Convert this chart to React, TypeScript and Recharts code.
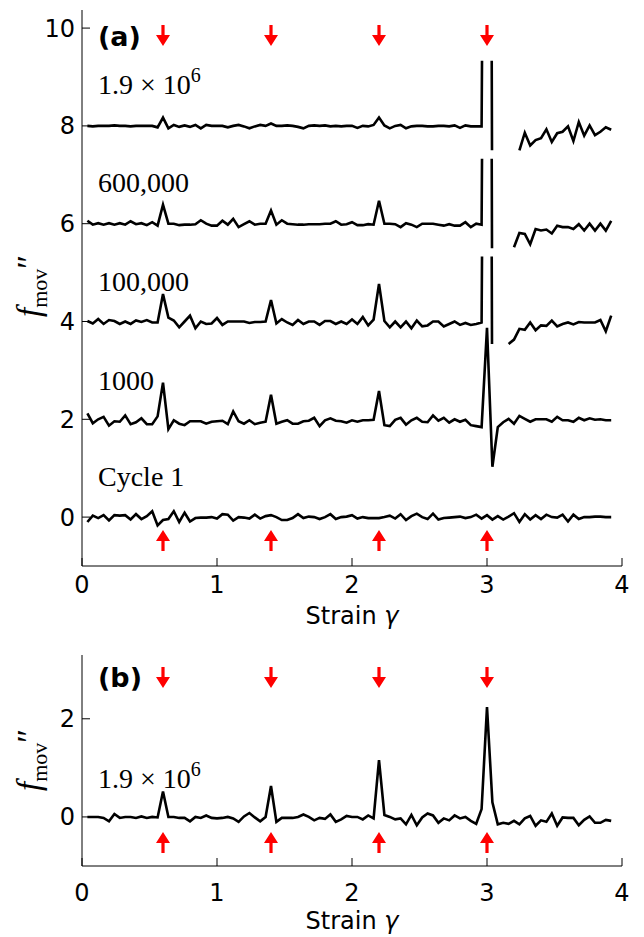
import { ComposedChart, Line, Scatter, XAxis, YAxis } from 'recharts';

// strain grid (gamma) shared by every trace
const strain = [
  0.04, 0.08, 0.12, 0.16, 0.2, 0.24, 0.28, 0.32, 0.36, 0.4,
  0.44, 0.48, 0.52, 0.56, 0.6, 0.64, 0.68, 0.72, 0.76, 0.8,
  0.84, 0.88, 0.92, 0.96, 1.0, 1.04, 1.08, 1.12, 1.16, 1.2,
  1.24, 1.28, 1.32, 1.36, 1.4, 1.44, 1.48, 1.52, 1.56, 1.6,
  1.64, 1.68, 1.72, 1.76, 1.8, 1.84, 1.88, 1.92, 1.96, 2.0,
  2.04, 2.08, 2.12, 2.16, 2.2, 2.24, 2.28, 2.32, 2.36, 2.4,
  2.44, 2.48, 2.52, 2.56, 2.6, 2.64, 2.68, 2.72, 2.76, 2.8,
  2.84, 2.88, 2.92, 2.96, 3.0, 3.04, 3.08, 3.12, 3.16, 3.2,
  3.24, 3.28, 3.32, 3.36, 3.4, 3.44, 3.48, 3.52, 3.56, 3.6,
  3.64, 3.68, 3.72, 3.76, 3.8, 3.84, 3.88, 3.92,
];

// f_mov'' for each cycle, before the vertical offset
const cycle1 = [
  -0.1, 0.03, -0.02, 0.04, -0.07, 0.04, 0.03, 0.04, -0.05, 0.06,
  -0.04, 0.02, 0.12, -0.17, -0.06, -0.04, 0.12, -0.1, 0.09, -0.09,
  -0.02, -0.01, -0.01, 0.0, -0.03, 0.06, 0.05, -0.07, 0.0, -0.01,
  -0.03, 0.05, -0.03, 0.02, 0.04, 0.0, -0.06, -0.06, -0.02, 0.06,
  -0.02, 0.01, 0.0, -0.04, 0.0, 0.06, -0.04, 0.0, 0.01, 0.04,
  -0.03, 0.0, -0.02, -0.02, -0.02, 0.0, 0.03, -0.03, 0.06, -0.06,
  0.02, 0.07, 0.0, -0.04, 0.07, -0.05, -0.02, -0.01, 0.0, 0.01,
  -0.02, 0.0, 0.05, -0.03, 0.04, -0.05, 0.02, -0.05, 0.01, 0.08,
  -0.1, 0.06, -0.05, 0.04, -0.04, 0.05, 0.0, -0.01, 0.05, -0.09,
  0.05, -0.04, 0.0, 0.0, 0.01, 0.01, 0.0, 0.0,
];

const cycle1000 = [
  0.12, -0.08, 0.0, 0.05, -0.13, -0.04, -0.05, 0.08, -0.1, -0.06,
  0.02, -0.1, -0.1, 0.06, 0.75, -0.2, -0.02, -0.09, -0.12, -0.04,
  -0.04, -0.04, -0.09, -0.05, -0.04, -0.03, -0.1, 0.16, -0.04, -0.09,
  -0.02, -0.1, -0.07, -0.05, 0.5, -0.09, -0.05, -0.02, -0.09, -0.09,
  -0.04, -0.03, 0.03, -0.14, -0.02, 0.02, -0.03, -0.04, -0.07, -0.02,
  -0.05, -0.02, -0.02, -0.01, 0.58, -0.12, -0.14, -0.01, 0.03, -0.11,
  -0.02, 0.03, -0.05, -0.06, 0.08, -0.03, 0.03, -0.07, 0.0, -0.05,
  -0.01, -0.12, -0.14, -0.16, 1.87, -0.97, -0.16, -0.06, 0.01, -0.09,
  0.07, 0.01, -0.05, 0.0, 0.0, 0.0, -0.05, 0.05, -0.02, -0.02,
  -0.05, 0.03, -0.02, 0.02, -0.01, 0.0, -0.02, -0.02,
];

const cycle100k = [
  0.01, -0.04, 0.05, -0.05, 0.03, 0.01, -0.05, 0.0, -0.05, 0.02,
  -0.01, 0.03, -0.02, -0.02, 0.56, 0.08, 0.02, -0.12, 0.0, 0.12,
  -0.14, 0.0, -0.05, -0.04, 0.07, -0.07, 0.0, 0.0, 0.0, 0.0,
  -0.03, -0.01, -0.01, 0.0, 0.44, -0.04, 0.05, -0.02, -0.07, 0.03,
  -0.05, 0.0, 0.0, -0.07, 0.01, 0.01, -0.05, 0.0, -0.05, 0.04,
  -0.05, 0.09, -0.08, 0.04, 0.77, 0.01, -0.12, 0.0, -0.12, 0.0,
  -0.14, 0.02, -0.1, -0.08, 0.0, 0.0, -0.1, -0.05, 0.0, -0.07,
  -0.03, -0.07, -0.05, -0.02, null, null, null, null, -0.46, -0.37,
  -0.15, -0.17, -0.02, -0.18, -0.08, -0.09, 0.02, -0.1, -0.05, -0.02,
  -0.06, -0.01, -0.02, -0.02, -0.02, 0.03, -0.2, 0.12,
];

const cycle600k = [
  0.06, -0.02, 0.01, -0.02, 0.01, -0.02, 0.01, -0.02, 0.05, -0.01,
  0.01, -0.03, 0.03, -0.04, 0.39, 0.0, 0.0, -0.03, -0.02, -0.02,
  -0.01, 0.07, 0.0, -0.04, -0.04, 0.06, -0.02, 0.1, -0.07, -0.01,
  0.05, -0.02, 0.0, 0.0, 0.27, -0.02, 0.07, 0.0, -0.01, -0.02,
  -0.02, -0.01, -0.01, -0.01, 0.0, 0.0, 0.05, -0.02, -0.01, 0.03,
  -0.03, -0.03, -0.01, -0.02, 0.47, 0.0, 0.0, -0.01, -0.07, 0.01,
  -0.02, -0.07, 0.0, 0.0, 0.0, -0.02, -0.04, -0.01, -0.04, -0.04,
  0.03, -0.07, 0.0, -0.02, null, null, null, null, null, -0.48,
  -0.19, -0.21, -0.42, -0.11, -0.14, -0.12, -0.2, -0.04, -0.07, -0.07,
  -0.11, -0.01, -0.14, 0.0, -0.14, 0.0, -0.14, 0.06,
];

const cycle19e6 = [
  0.0, -0.01, 0.0, 0.0, 0.0, 0.01, 0.0, 0.0, -0.01, 0.0,
  0.0, 0.0, 0.0, -0.03, 0.17, -0.05, 0.02, -0.02, 0.01, -0.02,
  0.02, -0.05, 0.02, 0.0, 0.0, 0.0, -0.03, 0.0, 0.02, -0.01,
  -0.05, -0.01, 0.02, 0.0, 0.05, 0.0, 0.0, 0.01, 0.0, -0.02,
  -0.05, 0.0, 0.01, 0.0, 0.01, -0.01, 0.0, -0.01, 0.0, 0.0,
  -0.04, 0.0, -0.01, 0.02, 0.17, 0.01, -0.05, 0.0, 0.02, -0.05,
  -0.01, 0.0, 0.0, -0.01, -0.01, 0.0, 0.0, -0.01, 0.01, -0.04,
  0.01, -0.01, -0.01, -0.01, null, null, null, null, null, null,
  -0.5, -0.14, -0.4, -0.29, -0.25, -0.07, -0.33, -0.15, -0.12, -0.01,
  -0.31, 0.08, -0.2, 0.01, -0.19, -0.12, -0.03, -0.08,
];

// panel (b): cycle 1.9e6, no offset
const panelB = [
  0.0, 0.0, 0.0, -0.02, -0.09, 0.06, -0.02, 0.0, 0.0, -0.02,
  0.01, -0.02, 0.0, -0.01, 0.52, 0.0, 0.0, -0.02, -0.02, -0.09,
  0.0, -0.02, 0.03, -0.02, -0.03, -0.02, 0.0, -0.03, -0.1, 0.01,
  0.08, -0.01, -0.09, 0.0, 0.63, -0.1, -0.02, -0.02, -0.02, 0.0,
  0.05, 0.0, -0.07, -0.02, -0.04, 0.05, -0.1, -0.05, 0.02, 0.0,
  0.0, -0.05, 0.03, -0.03, 1.16, 0.04, 0.0, -0.05, -0.03, -0.15,
  0.04, -0.17, -0.01, 0.07, 0.03, -0.12, -0.03, -0.07, 0.03, -0.03,
  0.0, -0.08, -0.14, 0.16, 2.24, 0.3, -0.15, -0.12, -0.14, -0.08,
  -0.15, -0.03, 0.02, -0.18, -0.07, -0.1, 0.07, -0.18, -0.01, -0.02,
  -0.02, -0.17, -0.06, 0.01, -0.12, -0.12, -0.06, -0.08,
];

// clipped spike at gamma = 3 for the later cycles
const spikeAfter = 2.96;
const spikeRiseX = 2.963;
const spikeFallX = 3.035;
const spikeTop = 1.33;

// red markers
const arrowStrain = [0.6, 1.4, 2.2, 3.0];
const arrowLevelsA = { down: 9.86, up: -0.49 };
const arrowLevelsB = { down: 2.85, up: -0.53 };

const xTicks = [0, 1, 2, 3, 4];
const yTicksA = [0, 2, 4, 6, 8, 10];
const yTicksB = [0, 2];

type Pt = { x: number; y: number | null };

function trace(values: (number | null)[], offset: number, spikeBottom?: number): Pt[] {
  const pts: Pt[] = [];
  strain.forEach((x, i) => {
    const v = values[i];
    pts.push({ x, y: v === null ? null : v + offset });
    if (spikeBottom !== undefined && x === spikeAfter) {
      pts.push({ x: spikeRiseX, y: offset + spikeTop });
      pts.push({ x: spikeRiseX, y: null });
      pts.push({ x: spikeFallX, y: offset + spikeTop });
      pts.push({ x: spikeFallX + 0.002, y: offset + spikeBottom });
    }
  });
  return pts;
}

const tracesA = [
  trace(cycle1, 0),
  trace(cycle1000, 2),
  trace(cycle100k, 4, -0.46),
  trace(cycle600k, 6, -0.5),
  trace(cycle19e6, 8, -0.5),
];
const tracesB = [trace(panelB, 0)];

const arrows = (level: number) => arrowStrain.map((x) => ({ x, y: level }));

const RED = '#ff0000';
const downArrow = (p: any) => {
  const { cx, cy } = p;
  return (
    <path
      d={`M${cx - 1.6},${cy - 10} L${cx + 1.6},${cy - 10} L${cx + 1.6},${cy} L${cx + 7},${cy} L${cx},${cy + 11} L${cx - 7},${cy} L${cx - 1.6},${cy} Z`}
      fill={RED}
    />
  );
};
const upArrow = (p: any) => {
  const { cx, cy } = p;
  return (
    <path
      d={`M${cx - 1.6},${cy + 10} L${cx + 1.6},${cy + 10} L${cx + 1.6},${cy} L${cx + 7},${cy} L${cx},${cy - 11} L${cx - 7},${cy} L${cx - 1.6},${cy} Z`}
      fill={RED}
    />
  );
};

const tickFont = { fill: '#000', fontSize: 24, fontFamily: 'DejaVu Sans' };
const axisStroke = { stroke: '#000', strokeWidth: 1 };

interface PanelProps {
  height: number;
  top: number;
  xAxisHeight: number;
  xTickMargin: number;
  yDomain: [number, number];
  yTicks: number[];
  traces: Pt[][];
  levels: { down: number; up: number };
}

function Panel({ height, top, xAxisHeight, xTickMargin, yDomain, yTicks, traces, levels }: PanelProps) {
  return (
    <ComposedChart width={644} height={height} margin={{ top, right: 22, bottom: 0, left: 0 }}>
      <XAxis
        xAxisId="b"
        type="number"
        dataKey="x"
        domain={[0, 4]}
        ticks={xTicks}
        allowDataOverflow
        height={xAxisHeight}
        tickSize={-8}
        tickMargin={xTickMargin}
        tick={tickFont}
        axisLine={axisStroke}
        tickLine={axisStroke}
      />
      <XAxis
        xAxisId="t"
        orientation="top"
        type="number"
        dataKey="x"
        domain={[0, 4]}
        ticks={xTicks}
        allowDataOverflow
        height={0}
        tickSize={-8}
        tick={false}
        axisLine={axisStroke}
        tickLine={axisStroke}
      />
      <YAxis
        yAxisId="l"
        type="number"
        dataKey="y"
        domain={yDomain}
        ticks={yTicks}
        allowDataOverflow
        width={82}
        tickSize={-8}
        tickMargin={15}
        tick={tickFont}
        axisLine={axisStroke}
        tickLine={axisStroke}
      />
      <YAxis
        yAxisId="r"
        orientation="right"
        type="number"
        dataKey="y"
        domain={yDomain}
        ticks={yTicks}
        allowDataOverflow
        width={0}
        tickSize={-8}
        tick={false}
        axisLine={axisStroke}
        tickLine={axisStroke}
      />
      {traces.map((d, i) => (
        <Line
          key={i}
          data={d}
          xAxisId="b"
          yAxisId="l"
          dataKey="y"
          stroke="#000"
          strokeWidth={2.6}
          dot={false}
          activeDot={false}
          connectNulls={false}
          isAnimationActive={false}
        />
      ))}
      <Scatter data={arrows(levels.down)} xAxisId="b" yAxisId="l" dataKey="y" shape={downArrow} isAnimationActive={false} />
      <Scatter data={arrows(levels.up)} xAxisId="b" yAxisId="l" dataKey="y" shape={upArrow} isAnimationActive={false} />
    </ComposedChart>
  );
}

const serif = 'Liberation Serif';

function YLabel({ x, y }: { x: number; y: number }) {
  return (
    <text transform={`translate(${x},${y}) rotate(-90)`} textAnchor="middle" fontFamily={serif} fontSize={33}>
      <tspan fontStyle="italic">f</tspan>
      <tspan fontSize={22} dy={7}>mov</tspan>
      <tspan dy={-7}>″</tspan>
    </text>
  );
}

export default function App() {
  return (
    <div style={{ position: 'absolute', left: 0, top: 0, width: 644, height: 937, background: '#fff' }}>
      <div style={{ position: 'absolute', left: 0, top: 0 }}>
        <Panel
          height={620}
          top={10}
          xAxisHeight={54}
          xTickMargin={18}
          yDomain={[-1, 10.37]}
          yTicks={yTicksA}
          traces={tracesA}
          levels={arrowLevelsA}
        />
      </div>
      <div style={{ position: 'absolute', left: 0, top: 640 }}>
        <Panel
          height={297}
          top={15}
          xAxisHeight={71}
          xTickMargin={26}
          yDomain={[-1, 3.3]}
          yTicks={yTicksB}
          traces={tracesB}
          levels={arrowLevelsB}
        />
      </div>
      <svg width={644} height={937} style={{ position: 'absolute', left: 0, top: 0, pointerEvents: 'none' }}>
        <text x={98} y={46} fontFamily="DejaVu Sans" fontWeight="bold" fontSize={27}>(a)</text>
        <text x={98} y={687} fontFamily="DejaVu Sans" fontWeight="bold" fontSize={27}>(b)</text>

        <g fontFamily={serif} fontSize={28} fill="#000">
          <text x={98} y={94}>
            1.9 × 10<tspan fontSize={20} dy={-12}>6</tspan>
          </text>
          <text x={98} y={192}>600,000</text>
          <text x={98} y={291}>100,000</text>
          <text x={98} y={390}>1000</text>
          <text x={98} y={486}>Cycle 1</text>
          <text x={98} y={788}>
            1.9 × 10<tspan fontSize={20} dy={-12}>6</tspan>
          </text>
        </g>

        <text x={352} y={624} textAnchor="middle" fontFamily="DejaVu Sans" fontSize={24}>
          Strain <tspan fontStyle="italic">γ</tspan>
        </text>
        <text x={352} y={929} textAnchor="middle" fontFamily="DejaVu Sans" fontSize={24}>
          Strain <tspan fontStyle="italic">γ</tspan>
        </text>

        <YLabel x={40} y={286} />
        <YLabel x={40} y={760} />
      </svg>
    </div>
  );
}
